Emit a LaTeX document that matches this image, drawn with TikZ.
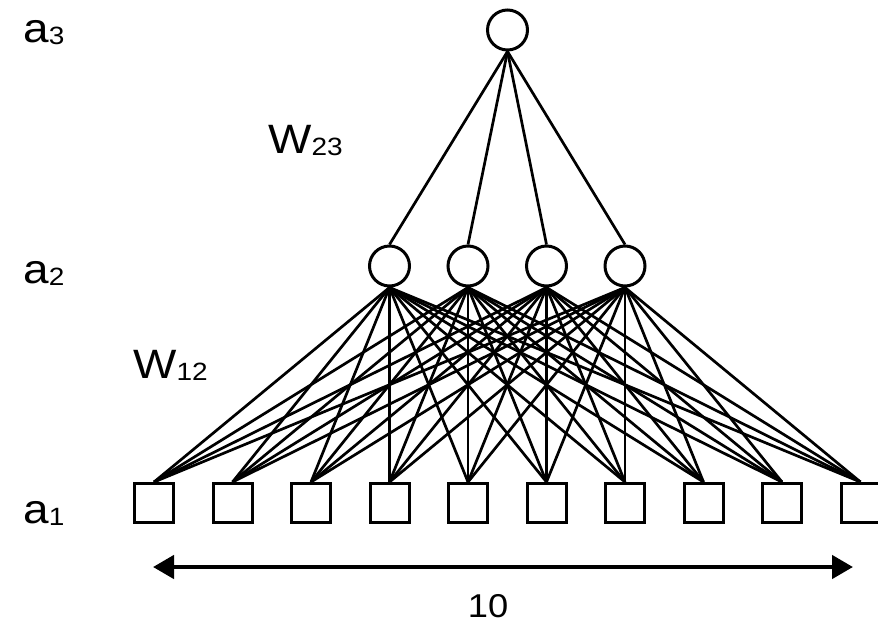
\documentclass[tikz,border=0pt]{standalone}
\usepackage{fontspec}
\setmainfont{Liberation Sans}
\usetikzlibrary{arrows.meta}

% subíndices de las etiquetas
\newcommand{\idx}[1]{\raisebox{-2pt}{\fontsize{25}{25}\selectfont #1}}

\begin{document}
\begin{tikzpicture}[
      x=1pt, y=-1pt,
      every node/.style={font=\fontsize{41}{42}\selectfont, inner sep=0pt},
      label/.style={anchor=base west, xscale=1.12},
      unit/.style={draw, line width=3pt, minimum size=39pt},
      neuron/.style={draw, circle, line width=3pt, minimum size=40pt},
      link/.style={line width=2.7pt},
      >={Triangle[length=21pt,width=23pt]}
    ]
    \useasboundingbox (0,0) rectangle (878,627);

    % NODOS
    \foreach \i in {1,...,10}
      \node[unit] (in\i) at ({154+78.5*(\i-1)},503) {};
    \foreach \j/\x in {1/389.5,2/468,3/546.5,4/625}
      \node[neuron] (hid\j) at (\x,266) {};
    \node[neuron] (out) at (507.5,30) {};

    % ETIQUETAS
    \node[label] (la3) at (23,42) {a\idx{3}};
    \node[label] (la2) at (23,283) {a\idx{2}};
    \node[label] (la1) at (23,523) {a\idx{1}};
    \node[label] (lw23) at (268,153) {W\idx{23}};
    \node[label] (lw12) at (133,378) {W\idx{12}};

    % FLECHAS
    \foreach \j in {1,...,4} {
      \draw[link] (out.south) -- (hid\j.north);
      \foreach \i in {1,...,10}
        \draw[link] (hid\j.south) -- (in\i.north);
    }

    % ancho de la capa de entrada
    \coordinate (dimL) at (153,567);
    \coordinate (dimR) at (853,567);
    \draw[<->, line width=4.5pt] (dimL) -- (dimR);
    \node[anchor=base, xscale=1.1, font=\fontsize{33}{34}\selectfont] (dimtext) at (488,617) {10};
  \end{tikzpicture}
\end{document}
